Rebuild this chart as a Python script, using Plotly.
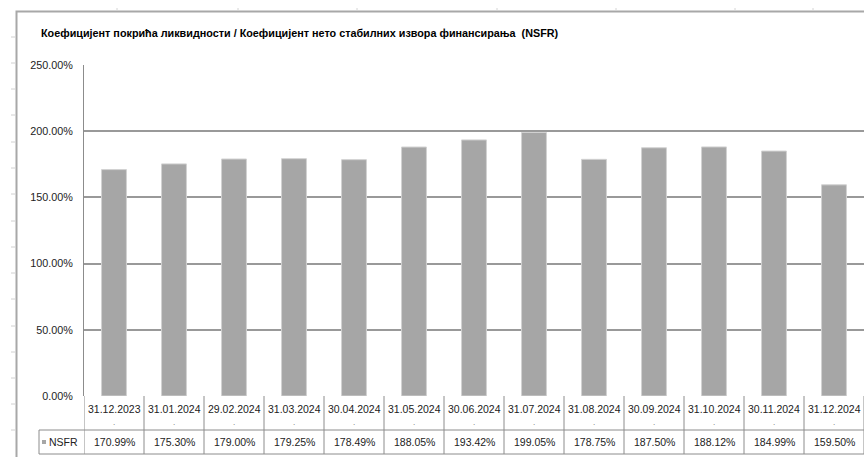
import plotly.graph_objects as go

# ---- data ----
categories = ["31.12.2023", "31.01.2024", "29.02.2024", "31.03.2024", "30.04.2024",
              "31.05.2024", "30.06.2024", "31.07.2024", "31.08.2024", "30.09.2024",
              "31.10.2024", "30.11.2024", "31.12.2024"]
nsfr_values = [170.99, 175.30, 179.00, 179.25, 178.49, 188.05, 193.42, 199.05,
               178.75, 187.50, 188.12, 184.99, 159.50]
value_labels = ["170.99%", "175.30%", "179.00%", "179.25%", "178.49%", "188.05%", "193.42%",
                "199.05%", "178.75%", "187.50%", "188.12%", "184.99%", "159.50%"]
tick_values = [0, 50, 100, 150, 200, 250]
tick_labels = ["0.00%", "50.00%", "100.00%", "150.00%", "200.00%", "250.00%"]
series_name = "NSFR"
title_text = "Коефицијент покрића ликвидности / Коефицијент нето стабилних извора финансирања  (NSFR)"

W, H = 864, 457
L, R_EDGE, TOP, BOT = 84, 864, 65, 396
FONT = "Liberation Sans Narrow, Arial Narrow, Liberation Sans, Arial, sans-serif"


def xp(px):
    return (px - L) / (R_EDGE - L)


def yp(py):
    return (BOT - py) / (BOT - TOP)


idx = list(range(len(categories)))

fig = go.Figure()
fig.add_trace(go.Bar(
    x=idx, y=nsfr_values, name=series_name, width=0.415,
    marker=dict(color="#a6a6a6", line=dict(color="#d2d2d2", width=1)),
    hoverinfo="y",
))

shapes = []
TC = "#8c8c8c"
# chart outer frame
shapes.append(dict(type="rect", xref="paper", yref="paper", x0=xp(16.5), x1=xp(880), y0=yp(11.5), y1=yp(470),
                   line=dict(color="#a8a8a8", width=2), fillcolor="rgba(0,0,0,0)", layer="above"))
# table row lines
shapes.append(dict(type="line", xref="paper", yref="paper", x0=0, x1=1, y0=yp(430), y1=yp(430),
                   line=dict(color=TC, width=1)))
shapes.append(dict(type="line", xref="paper", yref="paper", x0=xp(39), x1=0, y0=yp(430), y1=yp(430),
                   line=dict(color=TC, width=1)))
shapes.append(dict(type="line", xref="paper", yref="paper", x0=xp(39), x1=1, y0=yp(454), y1=yp(454),
                   line=dict(color=TC, width=1)))
shapes.append(dict(type="line", xref="paper", yref="paper", x0=xp(39), x1=xp(39), y0=yp(430), y1=yp(454),
                   line=dict(color=TC, width=1)))
# column separators
for k in range(len(categories) + 1):
    shapes.append(dict(type="line", xref="x", yref="paper", x0=k - 0.5, x1=k - 0.5,
                       y0=0, y1=yp(454), line=dict(color=TC, width=1)))
# legend key square
shapes.append(dict(type="rect", xref="paper", yref="paper", x0=xp(42), x1=xp(46),
                   y0=yp(444), y1=yp(440), fillcolor="#a6a6a6", line=dict(width=0)))
# faint spreadsheet grid ticks outside chart
for gy in [37, 63, 89, 115, 142, 168, 194, 221, 247, 273, 299, 326, 352, 378, 404, 430]:
    shapes.append(dict(type="line", xref="paper", yref="paper", x0=xp(11), x1=xp(15), y0=yp(gy), y1=yp(gy),
                       line=dict(color="#d0d0d0", width=1)))
for gx in [117, 238, 357, 497, 616, 735, 813]:
    shapes.append(dict(type="line", xref="paper", yref="paper", x0=xp(gx), x1=xp(gx), y0=yp(8), y1=yp(10),
                       line=dict(color="#d4d4d4", width=1)))

CELL = dict(family=FONT, size=10.5, color="#222")
annotations = []
for i, (c, v) in enumerate(zip(categories, value_labels)):
    annotations.append(dict(xref="x", yref="paper", x=i, y=yp(409), text=c, showarrow=False,
                            font=CELL, xanchor="center", yanchor="middle"))
    annotations.append(dict(xref="x", yref="paper", x=i, y=yp(422), text=".", showarrow=False,
                            font=dict(family=FONT, size=8, color="#666"), xanchor="center", yanchor="middle"))
    annotations.append(dict(xref="x", yref="paper", x=i, y=yp(442), text=v, showarrow=False,
                            font=CELL, xanchor="center", yanchor="middle"))
annotations.append(dict(xref="paper", yref="paper", x=xp(47), y=yp(442), text=series_name, showarrow=False,
                        font=CELL, xanchor="left", yanchor="middle"))
annotations.append(dict(xref="paper", yref="paper", x=xp(39), y=yp(33), text=title_text, showarrow=False,
                        font=dict(family=FONT, size=10.8, color="#000", weight="bold"),
                        xanchor="left", yanchor="middle"))

fig.update_layout(
    width=W, height=H,
    margin=dict(l=L, r=W - R_EDGE, t=TOP, b=H - BOT, pad=0),
    paper_bgcolor="white", plot_bgcolor="white",
    showlegend=False,
    bargap=0.585,
    font=dict(family=FONT, size=10.5, color="#222"),
    xaxis=dict(range=[-0.5, len(categories) - 0.5], showticklabels=False, showgrid=False,
               zeroline=False, showline=False, fixedrange=True),
    yaxis=dict(range=[0, 250], tickvals=tick_values, ticktext=tick_labels, showgrid=True,
               gridcolor="#999999", gridwidth=1.5, zeroline=False, showline=True,
               linecolor="#8c8c8c", linewidth=1, ticks="", ticklabelstandoff=8,
               tickfont=dict(family=FONT, size=10.8, color="#222"), fixedrange=True),
    shapes=shapes,
    annotations=annotations,
)

fig.write_html("out.html", config={"displayModeBar": False},
               post_script="document.body.style.margin='0';document.body.style.overflow='hidden';")
